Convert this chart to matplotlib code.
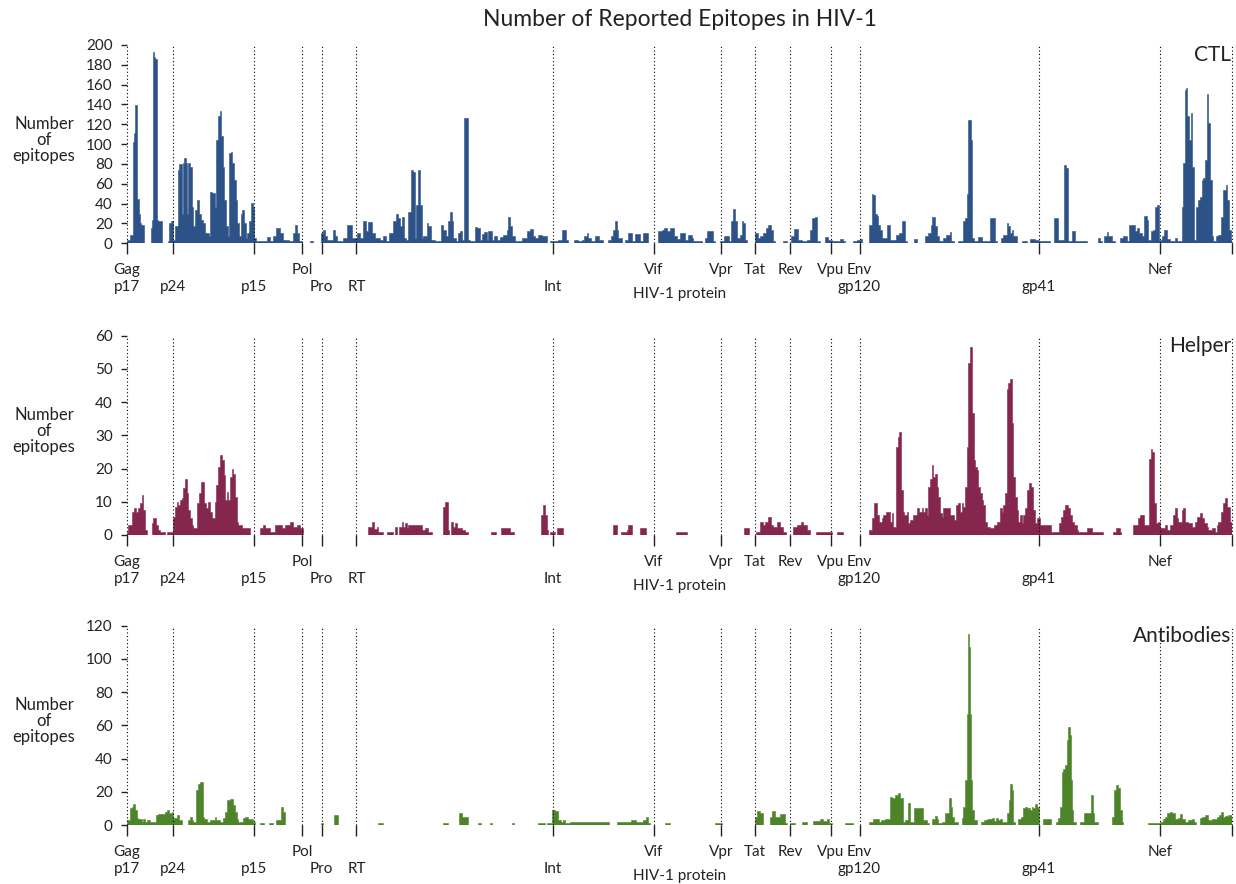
import numpy as np
import matplotlib
matplotlib.use("Agg")
import matplotlib.pyplot as plt

plt.rcParams['font.family'] = ['Lato', 'DejaVu Sans']

# genome layout (amino-acid positions along the concatenated HIV-1 proteome)
genome_len = 3151
protein_names = ["Gag", "Pol", "Vif", "Vpr", "Tat", "Rev", "Vpu", "Env", "Nef"]
protein_starts = [0, 500, 1503, 1695, 1791, 1892, 2008, 2089, 2945]
sub_names = ["p17", "p24", "p15", "Pro", "RT", "Int", "gp120", "gp41"]
sub_starts = [0, 132, 363, 556, 655, 1215, 2089, 2600]

# epitope counts as runs: (start position, count) ; each run lasts until the next start
ctl_runs = [
    (0, 3), (9, 8), (17, 102), (21, 111), (24, 139), (28, 87), (30, 45), (34, 30), (38, 20), (42, 18),
    (49, 0), (68, 15), (71, 23), (74, 193), (77, 188), (81, 186), (85, 23), (90, 22), (102, 0), (119, 2),
    (121, 20), (126, 22), (133, 3), (138, 17), (145, 74), (149, 80), (157, 30), (160, 81), (163, 86),
    (168, 81), (172, 30), (176, 81), (180, 77), (185, 37), (190, 17), (195, 34), (200, 44), (205, 30),
    (211, 23), (217, 20), (223, 10), (235, 7), (238, 52), (242, 51), (252, 37), (256, 104), (261, 128),
    (266, 133), (270, 108), (274, 77), (278, 44), (283, 17), (288, 7), (293, 91), (296, 92), (301, 81),
    (306, 64), (311, 44), (315, 20), (319, 7), (325, 30), (329, 34), (334, 20), (339, 5), (344, 10),
    (350, 22), (353, 41), (359, 37), (363, 5), (370, 2), (399, 6), (408, 2), (418, 7), (427, 15),
    (437, 10), (445, 3), (464, 2), (473, 10), (480, 18), (486, 10), (492, 2), (499, 0), (522, 2),
    (532, 0), (553, 10), (559, 13), (565, 7), (572, 3), (588, 13), (594, 7), (599, 2), (618, 5),
    (629, 18), (641, 5), (656, 10), (665, 5), (673, 22), (682, 12), (689, 21), (698, 10), (708, 5),
    (722, 3), (730, 7), (739, 2), (748, 10), (758, 22), (767, 30), (774, 25), (779, 17), (784, 27),
    (791, 5), (795, 3), (803, 32), (810, 74), (817, 72), (822, 5), (826, 39), (831, 74), (836, 39),
    (841, 5), (846, 7), (855, 20), (860, 17), (867, 3), (879, 2), (896, 18), (903, 13), (909, 7),
    (915, 22), (922, 32), (926, 22), (931, 5), (938, 2), (945, 10), (950, 12), (955, 3), (962, 126),
    (972, 3), (979, 2), (993, 16), (1000, 15), (1007, 3), (1012, 9), (1019, 11), (1026, 3), (1029, 12),
    (1040, 3), (1048, 7), (1055, 3), (1064, 6), (1074, 8), (1083, 13), (1088, 27), (1093, 17),
    (1097, 7), (1107, 2), (1126, 5), (1140, 12), (1150, 14), (1159, 7), (1164, 5), (1173, 8),
    (1183, 7), (1197, 0), (1207, 2), (1230, 3), (1240, 13), (1251, 3), (1259, 0), (1276, 3),
    (1287, 2), (1297, 3), (1305, 7), (1311, 10), (1316, 5), (1325, 2), (1335, 7), (1346, 3),
    (1359, 0), (1371, 3), (1381, 7), (1387, 13), (1392, 22), (1397, 13), (1401, 5), (1411, 0),
    (1420, 3), (1428, 10), (1441, 2), (1449, 9), (1463, 2), (1473, 10), (1485, 0), (1515, 12),
    (1525, 13), (1532, 15), (1539, 12), (1549, 15), (1560, 7), (1568, 4), (1577, 10), (1592, 3),
    (1601, 8), (1611, 5), (1615, 2), (1639, 0), (1649, 5), (1655, 12), (1672, 2), (1677, 0),
    (1691, 2), (1703, 7), (1718, 2), (1723, 22), (1727, 35), (1733, 22), (1739, 5), (1748, 8),
    (1753, 22), (1758, 20), (1763, 3), (1767, 0), (1792, 10), (1801, 5), (1805, 7), (1815, 10),
    (1822, 15), (1829, 18), (1836, 13), (1841, 2), (1848, 0), (1872, 2), (1881, 0), (1893, 7),
    (1902, 14), (1915, 3), (1924, 2), (1938, 3), (1948, 13), (1955, 25), (1962, 27), (1967, 2),
    (1976, 0), (1991, 6), (2000, 3), (2010, 2), (2033, 4), (2043, 2), (2048, 0), (2070, 2),
    (2081, 3), (2090, 4), (2095, 0), (2117, 18), (2124, 50), (2128, 49), (2133, 30), (2138, 28),
    (2143, 18), (2147, 13), (2152, 5), (2166, 18), (2176, 3), (2193, 8), (2203, 10), (2209, 22),
    (2219, 2), (2225, 0), (2244, 4), (2254, 0), (2276, 7), (2285, 10), (2292, 18), (2297, 27),
    (2304, 17), (2309, 7), (2316, 2), (2328, 5), (2337, 8), (2347, 11), (2350, 2), (2357, 0),
    (2369, 2), (2385, 22), (2390, 25), (2395, 50), (2399, 124), (2406, 104), (2411, 5), (2416, 2),
    (2428, 6), (2437, 2), (2461, 25), (2475, 2), (2480, 0), (2492, 5), (2499, 8), (2509, 20),
    (2513, 17), (2518, 10), (2523, 13), (2528, 7), (2537, 0), (2553, 2), (2566, 0), (2575, 4),
    (2589, 3), (2602, 2), (2632, 0), (2644, 25), (2656, 3), (2672, 79), (2677, 76), (2682, 2),
    (2694, 12), (2703, 2), (2737, 0), (2768, 5), (2775, 2), (2779, 0), (2787, 7), (2794, 11),
    (2798, 7), (2808, 2), (2817, 0), (2832, 5), (2841, 7), (2851, 2), (2857, 18), (2875, 12),
    (2879, 15), (2886, 10), (2893, 7), (2901, 28), (2908, 23), (2912, 3), (2920, 12), (2927, 13),
    (2931, 37), (2938, 39), (2943, 3), (2950, 7), (2957, 13), (2965, 4), (2974, 2), (2988, 5),
    (2993, 2), (3007, 37), (3012, 81), (3017, 155), (3021, 157), (3024, 128), (3028, 104),
    (3034, 131), (3038, 77), (3043, 3), (3047, 37), (3053, 44), (3060, 47), (3064, 64), (3069, 66),
    (3074, 84), (3079, 151), (3083, 121), (3088, 64), (3093, 7), (3098, 2), (3104, 7), (3112, 8),
    (3119, 27), (3126, 54), (3133, 59), (3138, 44), (3142, 13), (3148, 3),
]

helper_runs = [
    (0, 1), (5, 3), (14, 7), (21, 8), (27, 7), (33, 8), (38, 9.5), (43, 12), (47, 7.5), (52, 1.5),
    (59, 0), (71, 3.5), (76, 5), (83, 3), (88, 1.5), (95, 1), (109, 0), (116, 1), (133, 5.5),
    (138, 8.5), (142, 10), (147, 9), (152, 10.5), (157, 11), (161, 14), (166, 17), (171, 12.5),
    (176, 7.5), (180, 5), (185, 3), (190, 2), (201, 9.5), (206, 12.5), (211, 16), (221, 9.5),
    (226, 8), (233, 10), (238, 7), (242, 5), (252, 10), (256, 15), (261, 20.5), (266, 24),
    (271, 22.5), (276, 18), (280, 10.5), (285, 13), (290, 10.5), (295, 17.5), (299, 20), (304, 18.5),
    (309, 11.5), (314, 4), (318, 3), (328, 2), (351, 0), (380, 2), (388, 3), (394, 2), (409, 1),
    (423, 3), (442, 2), (451, 3), (466, 4), (475, 2.5), (485, 3), (494, 2), (502, 0), (689, 2.5),
    (698, 4), (705, 1.7), (713, 2.5), (717, 1), (732, 0), (741, 1), (758, 0), (765, 2.5), (770, 0),
    (776, 2.5), (784, 4), (789, 2.5), (793, 3.5), (798, 2), (803, 3), (841, 1.5), (850, 2), (860, 1),
    (869, 0), (903, 8.5), (907, 10), (915, 1.5), (920, 0), (924, 4), (929, 2.5), (936, 3.5),
    (943, 2), (955, 1.5), (964, 1), (972, 0), (1038, 1), (1052, 0), (1067, 2), (1093, 1), (1105, 0),
    (1181, 6), (1186, 9), (1192, 6), (1197, 1.5), (1202, 0), (1208, 1), (1221, 0), (1228, 2),
    (1245, 0), (1387, 3), (1399, 0), (1409, 1), (1425, 1.5), (1430, 3), (1441, 0), (1463, 2),
    (1480, 0), (1566, 1), (1598, 0), (1760, 2.2), (1775, 0), (1794, 1), (1805, 4), (1813, 3),
    (1820, 4), (1829, 5.3), (1836, 3), (1843, 2.5), (1853, 4), (1862, 2.5), (1872, 1), (1879, 0),
    (1900, 2.5), (1910, 3), (1921, 4), (1929, 3), (1938, 1.5), (1948, 0), (1965, 1), (2010, 0),
    (2024, 1), (2043, 0), (2117, 1.5), (2124, 5), (2130, 9.7), (2138, 6), (2145, 4), (2152, 5),
    (2157, 6), (2164, 7), (2176, 4), (2181, 6.5), (2185, 2.5), (2193, 26.6), (2198, 29.6),
    (2202, 31), (2207, 13.5), (2212, 7), (2217, 6), (2223, 7), (2228, 3.5), (2233, 4.5), (2242, 6),
    (2252, 8), (2259, 7), (2266, 8), (2271, 7), (2276, 8), (2280, 6), (2285, 14.5), (2290, 17),
    (2295, 21), (2299, 17.5), (2304, 18.5), (2309, 14.5), (2314, 11.5), (2318, 6.5), (2323, 5.5),
    (2328, 8), (2347, 6), (2357, 4.5), (2363, 9), (2371, 9.7), (2376, 7), (2380, 9.5), (2385, 8.5),
    (2390, 14.5), (2395, 26.6), (2399, 51.7), (2404, 56.7), (2409, 36.6), (2414, 22.6),
    (2418, 20.6), (2423, 19.6), (2428, 14.5), (2433, 12.5), (2437, 10.5), (2442, 9), (2447, 4),
    (2452, 2.5), (2461, 2), (2471, 3), (2480, 4), (2490, 8), (2494, 7), (2499, 9), (2504, 12.5),
    (2509, 44), (2513, 45.6), (2518, 47), (2523, 33.6), (2528, 17.5), (2532, 11.5), (2537, 7.5),
    (2542, 4), (2547, 6), (2551, 3.5), (2556, 6), (2561, 8), (2566, 13.5), (2572, 15.7),
    (2578, 14.5), (2585, 7.5), (2589, 3.5), (2594, 5), (2604, 3), (2635, 1), (2658, 3.5),
    (2663, 5.5), (2670, 7.5), (2675, 9), (2682, 8), (2689, 6), (2694, 4), (2701, 3), (2708, 1.5),
    (2713, 1), (2737, 2), (2751, 1), (2784, 0), (2813, 1), (2819, 2), (2832, 1), (2834, 0),
    (2868, 3), (2882, 5), (2889, 6), (2901, 3), (2914, 23), (2919, 26), (2924, 25), (2928, 9.5),
    (2933, 3.5), (2941, 4), (2946, 2), (2960, 3), (2967, 1.5), (2974, 3), (2984, 6), (2988, 8),
    (2993, 5), (2998, 4), (3007, 7.5), (3012, 8), (3017, 4), (3026, 3.5), (3036, 2.5), (3045, 4),
    (3050, 5.5), (3060, 6.5), (3064, 5), (3072, 3.5), (3079, 2.5), (3083, 1.5), (3093, 2),
    (3102, 1), (3107, 3), (3112, 4), (3119, 7), (3126, 9.5), (3131, 11), (3138, 8.5), (3145, 4),
]

antibody_runs = [
    (0, 0), (2, 3), (9, 10), (14, 11), (19, 12.6), (24, 9), (28, 4), (33, 3.4), (43, 2), (47, 3.4),
    (52, 2), (59, 3), (66, 2), (83, 6), (90, 6.4), (109, 8), (116, 9), (122, 7.4), (128, 8), (133, 4),
    (142, 6), (150, 3), (157, 0), (176, 3), (180, 5), (185, 3), (190, 2), (199, 21), (204, 25),
    (209, 26), (217, 5), (221, 3.4), (228, 2), (238, 3), (252, 5), (256, 3), (266, 2), (274, 4),
    (280, 8), (285, 15), (295, 15.5), (304, 12), (309, 8), (314, 3.4), (318, 2), (331, 4), (337, 5),
    (347, 3.4), (359, 2), (366, 0), (380, 1), (391, 0), (407, 1.4), (418, 0), (427, 3), (440, 11),
    (445, 8), (451, 0), (553, 1), (561, 0), (591, 6), (601, 0), (717, 1), (730, 0), (903, 1),
    (917, 0), (947, 7.4), (955, 5), (960, 4.6), (974, 0), (1002, 1), (1010, 0), (1036, 1),
    (1042, 0), (1097, 1), (1105, 0), (1173, 1), (1192, 0), (1197, 1), (1213, 9), (1221, 8.6),
    (1230, 3), (1238, 2), (1243, 3), (1249, 1.4), (1264, 2), (1311, 1.6), (1363, 2), (1375, 0),
    (1399, 1.6), (1430, 2), (1439, 3), (1451, 2), (1473, 3), (1479, 5), (1487, 1), (1492, 0),
    (1534, 1), (1549, 0), (1677, 1), (1696, 0), (1792, 5), (1798, 8.6), (1805, 7.4), (1813, 0),
    (1834, 5), (1839, 8.6), (1848, 5), (1862, 6.6), (1877, 1), (1881, 0), (1891, 1), (1905, 0),
    (1924, 2), (1938, 0), (1957, 2.6), (1976, 3.4), (1984, 2.6), (1995, 3.4), (2003, 1), (2010, 0),
    (2048, 1), (2071, 0), (2117, 2), (2128, 3.8), (2145, 2), (2149, 3), (2162, 3.4), (2176, 17),
    (2183, 16), (2190, 18), (2200, 19.5), (2204, 16), (2212, 2), (2219, 3), (2228, 13), (2233, 2),
    (2244, 10.4), (2252, 10), (2271, 3), (2280, 1), (2288, 0), (2297, 3.4), (2304, 5.4),
    (2309, 3.4), (2314, 1), (2323, 2), (2333, 7), (2345, 16), (2350, 11), (2354, 5), (2359, 2),
    (2371, 0), (2380, 4), (2385, 11), (2390, 27), (2395, 67), (2397, 115), (2401, 107), (2404, 67),
    (2407, 27), (2411, 9), (2416, 3), (2423, 0), (2435, 2), (2445, 3), (2452, 3.4), (2466, 4.4),
    (2471, 2.4), (2477, 4), (2483, 3), (2490, 3.4), (2496, 2), (2509, 7), (2515, 15), (2519, 24.7),
    (2523, 21), (2528, 2), (2532, 0), (2542, 3.4), (2549, 5), (2556, 10), (2561, 11), (2566, 10),
    (2575, 9), (2580, 11), (2585, 10), (2589, 12.6), (2594, 11), (2602, 0), (2613, 3.6), (2635, 0),
    (2648, 2), (2656, 4), (2661, 11), (2665, 32), (2670, 34), (2675, 36), (2680, 51), (2684, 59),
    (2689, 54), (2692, 27), (2696, 9), (2699, 2), (2705, 0), (2718, 2), (2730, 7), (2749, 18),
    (2754, 7), (2758, 2), (2768, 0), (2808, 5), (2814, 21), (2819, 24), (2825, 22), (2832, 9),
    (2836, 2), (2839, 0), (2912, 1), (2946, 2), (2955, 3.6), (2960, 5), (2965, 7), (2974, 8),
    (2979, 7), (2988, 3.4), (2998, 4), (3003, 6.6), (3009, 3.4), (3017, 2), (3026, 3), (3036, 3.4),
    (3043, 2), (3047, 0), (3060, 4), (3066, 5), (3074, 6), (3083, 3), (3093, 3.4), (3107, 4.6),
    (3114, 6), (3119, 8), (3126, 5), (3131, 5.4), (3140, 6),
]

panel_names = ["CTL", "Helper", "Antibodies"]
panel_runs = [ctl_runs, helper_runs, antibody_runs]
panel_colors = ["#2c5287", "#85264f", "#4d842a"]
panel_ymax = [200, 60, 120]
panel_ystep = [20, 10, 20]

boundaries = sorted(set(protein_starts + sub_starts + [genome_len]))

fig = plt.figure(figsize=(12.36, 8.84), dpi=100)
bottoms = [0.7248, 0.3948, 0.0667]
heights = [0.2243, 0.2255, 0.2255]
txt = '#222222'

for i in range(3):
    ax = fig.add_axes([0.1025, bottoms[i], 0.8943, heights[i]])
    starts = [r[0] for r in panel_runs[i]]
    counts = [r[1] for r in panel_runs[i]]
    edges = starts + [genome_len]
    ax.stairs(counts, edges, fill=True, facecolor=panel_colors[i], edgecolor=panel_colors[i],
              linewidth=0.4, baseline=0)

    ax.set_xlim(0, genome_len)
    ax.set_ylim(0, panel_ymax[i])
    for b in boundaries:
        ax.axvline(b, color='black', linewidth=0.8, linestyle=(0, (1, 2.2)), clip_on=False, zorder=3)
    for s in ax.spines.values():
        s.set_visible(False)

    ax.set_xticks(boundaries)
    ax.set_xticklabels([])
    ax.tick_params(axis='x', length=8, width=1, color='#222222', direction='out')
    ax.set_yticks(np.arange(0, panel_ymax[i] + 1, panel_ystep[i]))
    ax.tick_params(axis='y', length=4, width=1, color='#222222', labelsize=11, pad=6, labelcolor=txt)

    ax.set_ylabel("Number\nof\nepitopes", rotation=0, fontsize=12, color=txt,
                  ha='center', va='center', linespacing=1.0)
    ax.yaxis.set_label_coords(-0.0748, 0.52)

    for name, pos in zip(protein_names, protein_starts):
        ax.annotate(name, xy=(pos, 0), xycoords=('data', 'axes fraction'), xytext=(0, -19.5),
                    textcoords='offset points', ha='center', va='center', fontsize=11, color=txt)
    for name, pos in zip(sub_names, sub_starts):
        ax.annotate(name, xy=(pos, 0), xycoords=('data', 'axes fraction'), xytext=(0, -31.5),
                    textcoords='offset points', ha='center', va='center', fontsize=11, color=txt)
    ax.annotate("HIV-1 protein", xy=(0.5, 0), xycoords='axes fraction', xytext=(0, -36.5),
                textcoords='offset points', ha='center', va='center', fontsize=11, color=txt)

    ax.text(0.999, 0.95, panel_names[i], transform=ax.transAxes, ha='right', va='center',
            fontsize=15, color=txt)

fig.text(0.55, 1 - 20 / 884, "Number of Reported Epitopes in HIV-1", ha='center', va='center',
         fontsize=16.5, color=txt)

fig.savefig("out.png", dpi=100)
